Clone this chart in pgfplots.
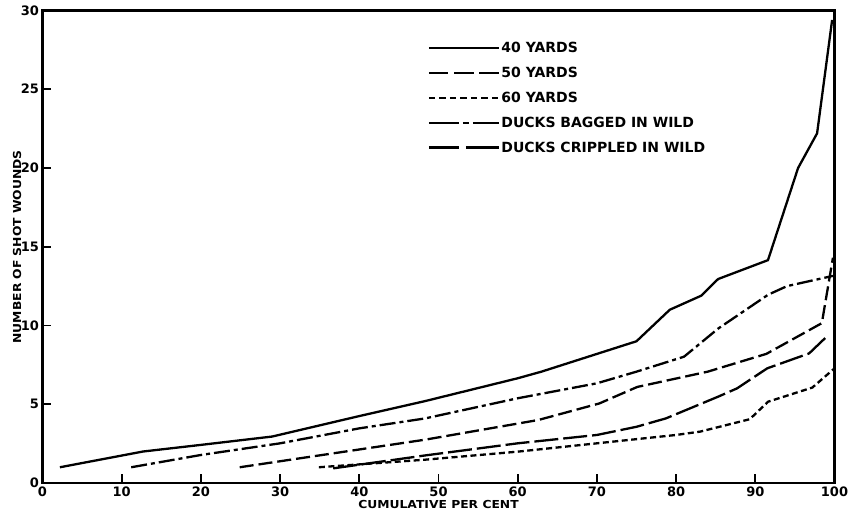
\documentclass[border=0pt]{standalone}
\usepackage{fontspec}
\setmainfont{DejaVu Sans}
\newfontfamily\labfont{DejaVu Sans}[FakeStretch=1.12]
\usepackage{pgfplots}
\pgfplotsset{compat=1.18}
\tikzset{lw/.style={black, line width=2.3pt}}
\begin{document}
\begin{tikzpicture}
\begin{axis}[
 scale only axis, width=792pt, height=472.5pt,
 xmin=0, xmax=100, ymin=0, ymax=30,
 xtick={0,10,...,100}, ytick={0,5,...,30},
 tick align=inside, xtick pos=left, ytick pos=left,
 major tick length=9pt,
 every tick/.style={black, line width=1.8pt},
 axis line style={line width=2.2pt},
 /pgf/number format/assume math mode=true,
 ticklabel style={font=\bfseries\fontsize{13}{13}\selectfont},
 xlabel={CUMULATIVE PER CENT}, ylabel={NUMBER OF SHOT WOUNDS},
 label style={font=\labfont\bfseries\fontsize{11}{12}\selectfont},
 xlabel style={at={(axis description cs:0.5,-0.0465)}, anchor=center},
 ylabel style={at={(axis description cs:-0.0322,0.5)}, anchor=center},
 legend style={draw=none, fill=none, at={(axis cs:48.6,28.1)}, anchor=north west,
   font=\bfseries\fontsize{14}{14.5}\selectfont, row sep=10pt, inner sep=0pt,
   nodes={inner sep=1.5pt}},
 legend cell align=left,
 legend image code/.code={\draw[#1] (0pt,0pt) -- (70pt,0pt);},
]
\addplot[black, line width=2.3pt, mark=none, forget plot] coordinates {(2.2,1.0) (12.7,2.0) (20,2.42) (29,2.95) (40,4.25) (48.3,5.2) (60,6.65) (63,7.07) (75,9.0) (79.2,11.0) (83.2,11.9) (85.3,12.95) (91.6,14.15) (95.4,20.0) (97.8,22.2) (99.7,29.4)};
\addplot[black, line width=2.3pt, mark=none, forget plot, dash pattern=on 14pt off 5pt] coordinates {(24.9,1.0) (48.3,2.75) (62.6,4.0) (70.3,5.05) (75.1,6.1) (84,7.07) (91.4,8.2) (98.4,10.15) (99.8,14.3)};
\addplot[black, line width=2.3pt, mark=none, forget plot, dash pattern=on 6pt off 3.5pt] coordinates {(34.9,1.0) (48.3,1.48) (60,1.99) (70,2.52) (80,3.05) (83,3.26) (89.3,4.05) (91.6,5.16) (97.2,6.06) (100,7.28)};
\addplot[black, line width=2.3pt, mark=none, forget plot, dash pattern=on 16pt off 4pt on 4pt off 4pt] coordinates {(11.2,1.0) (20,1.78) (30,2.52) (40,3.47) (48.3,4.1) (60,5.38) (70,6.33) (75,7.07) (81,8.02) (85.3,9.8) (91.6,11.95) (94,12.5) (99.8,13.15)};
\addplot[black, line width=2.3pt, mark=none, forget plot, dash pattern=on 24pt off 5pt] coordinates {(36.7,0.93) (48.3,1.75) (60,2.52) (70,3.05) (75,3.57) (78.7,4.1) (85.3,5.48) (87.7,6.01) (91.5,7.28) (96.8,8.23) (99,9.29)};
\addlegendimage{black, line width=2.3pt}
\addlegendentry{40 YARDS}
\addlegendimage{black, line width=2.3pt, dash pattern=on 19.5pt off 5.75pt}
\addlegendentry{50 YARDS}
\addlegendimage{black, line width=2.3pt, dash pattern=on 6.5pt off 4pt}
\addlegendentry{60 YARDS}
\addlegendimage{black, line width=2.3pt, dash pattern=on 30pt off 4pt on 6pt off 4pt on 30pt off 0pt}
\addlegendentry{DUCKS BAGGED IN WILD}
\addlegendimage{black, line width=2.3pt, dash pattern=on 30pt off 7pt on 40pt off 0pt}
\addlegendentry{DUCKS CRIPPLED IN WILD}
\end{axis}
\pgfresetboundingbox
\useasboundingbox ([xshift=-42.5pt,yshift=-32pt]current axis.south west) rectangle ([xshift=15.5pt,yshift=10.5pt]current axis.north east);
\end{tikzpicture}
\end{document}
